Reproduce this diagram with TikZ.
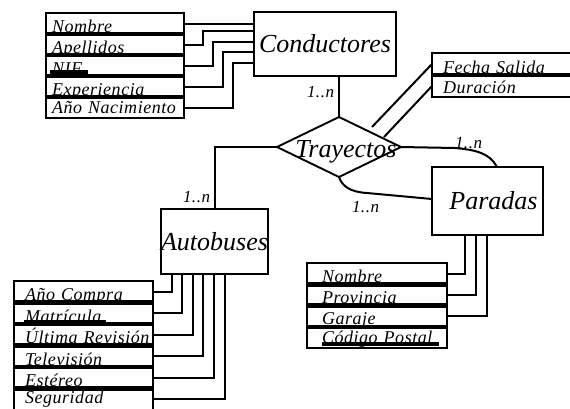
\documentclass[tikz,border=0pt]{standalone}
\usepackage{fontspec}
\setmainfont{Liberation Serif}
\newfontfamily\attrfam[LetterSpace=3]{Liberation Serif}
\usetikzlibrary{shapes.geometric}
\begin{document}
\begin{tikzpicture}[x=1pt,y=-1pt,
  every node/.style={inner sep=0pt, outer sep=0pt},
  entity/.style={draw, line width=1.9pt, font=\itshape\fontsize{26}{28}\selectfont},
  relname/.style={font=\itshape\fontsize{26}{28}\selectfont, anchor=base},
  rel/.style={draw, diamond, line width=1.9pt, inner sep=0pt, minimum width=124pt, minimum height=60pt},
  row/.style={draw, line width=1.6pt, anchor=north west, inner ysep=0pt, text depth=2pt, align=left, font=\attrfam\itshape\fontsize{18}{20}\selectfont},
  crow/.style={row, inner xsep=6pt, text width=126pt, text height=19pt},
  arow/.style={row, inner xsep=11pt, text width=117pt, text height=19.5pt},
  prow/.style={row, inner xsep=15pt, text width=110pt, text height=19.25pt},
  frow/.style={row, inner xsep=11pt, text width=121pt, text height=20pt},
  lastrow/.style={text depth=#1, text height=21pt-#1},
  sepbar/.style={line width=4.5pt},
  keybar/.style={line width=3.5pt},
  link/.style={line width=2pt},
  card/.style={anchor=base west, font=\attrfam\itshape\fontsize{17}{19}\selectfont}
]
\useasboundingbox (0,0) rectangle (570,408);
\clip (0,0) rectangle (570,408);
\fill[white] (0,0) rectangle (570,408);

% entities and relationship
\node[entity, minimum width=142pt, minimum height=64pt] (cond) at (325,44) {Conductores};
\node[entity, minimum width=111pt, minimum height=68pt] (par) at (487.5,201) {\hspace*{12pt}Paradas};
\node[entity, minimum width=107pt, minimum height=65pt] (aut) at (214.5,241.5) {Autobuses};
\node[rel] (tray) at (339,147) {};
\node[relname] (trayt) at (346,157) {Trayectos};

% Conductores attributes
\node[crow] (c1) at (46,13) {Nombre};
\node[crow] (c2) at (46,34) {Apellidos};
\node[crow] (c3) at (46,55) {NIF};
\node[crow] (c4) at (46,76) {Experiencia};
\node[crow, lastrow=4.5pt] (c5) at (46,97) {\mbox{Año Nacimiento}};
\foreach \r in {c1,c2,c3,c4} \draw[sepbar] (\r.south west) -- (\r.south east);
\draw[keybar] ([xshift=4pt,yshift=4pt]c3.south west) -- ++(38,0);

% Trayectos attributes
\node[frow] (fs) at (432,53) {\mbox{Fecha Salida}};
\node[frow, lastrow=4pt, text height=18pt] (du) at (432,75) {Duración};
\draw[sepbar] (fs.south west) -- (fs.south east);

% Paradas attributes
\node[prow] (p1) at (307,263) {Nombre};
\node[prow] (p2) at (307,284.25) {Provincia};
\node[prow] (p3) at (307,305.5) {Garaje};
\node[prow, lastrow=5pt, text height=16.25pt] (p4) at (307,326.75) {\mbox{Código Postal}};
\foreach \r in {p1,p2,p3} \draw[sepbar] (\r.south west) -- (\r.south east);
\draw[keybar] ([xshift=15pt,yshift=4pt]p4.south west) -- ++(117,0);

% Autobuses attributes
\node[arow] (a1) at (14,281) {\mbox{Año Compra}};
\node[arow] (a2) at (14,302.5) {Matrícula};
\node[arow] (a3) at (14,324) {\mbox{Última Revisión}};
\node[arow] (a4) at (14,345.5) {Televisión};
\node[arow] (a5) at (14,367) {Estéreo};
\node[arow, text depth=7pt, text height=14.5pt] (a6) at (14,388.5) {Seguridad};
\foreach \r in {a1,a2,a3,a4,a5} \draw[sepbar] (\r.south west) -- (\r.south east);
\draw[keybar] ([xshift=10pt,yshift=2.5pt]a2.south west) -- ++(82,0);

% connectors Conductores attributes
\draw[link] (c1.east) -- (c1.east -| cond.west);
\draw[link] (c2.east) -| (203,31) -- (cond.west |- 0,31);
\draw[link] (c3.east) -| (213,42) -- (cond.west |- 0,42);
\draw[link] (c4.east) -| (223,52) -- (cond.west |- 0,52);
\draw[link] (c5.east) -| (233,63) -- (cond.west |- 0,63);

% connectors Autobuses attributes
\draw[link] (a1.east) -| ([xshift=11pt]aut.south west);
\draw[link] (a2.east) -| ([xshift=21pt]aut.south west);
\draw[link] (a3.east) -| ([xshift=32pt]aut.south west);
\draw[link] (a4.east) -| ([xshift=42pt]aut.south west);
\draw[link] (a5.east) -| ([xshift=53pt]aut.south west);
\draw[link] (a6.east) -| ([xshift=64pt]aut.south west);

% connectors Paradas attributes
\draw[link] (p1.east) -| ([xshift=33pt]par.south west);
\draw[link] (p2.east) -| ([xshift=44pt]par.south west);
\draw[link] (p3.east) -| ([xshift=55pt]par.south west);

% relationship connectors
\draw[link] (cond.south -| tray.north) -- (tray.north);
\draw[link] (tray.west) -| (aut.north);
\draw[link] (tray.east) -- (455,148) .. controls (478,150) and (490,154) .. ([xshift=9.5pt]par.north);
\draw[link] (tray.south) .. controls (342,186) and (350,192) .. (367,193) -- ([yshift=2pt]par.west);
\coordinate (d1) at (372,127);
\coordinate (d2) at (384,137);
\draw[link] (d1) -- (fs.west);
\draw[link] (d2) -- (du.west);

% cardinalities
\node[card] (k1) at (307,97) {1..n};
\node[card] (k2) at (455,148) {1..n};
\node[card] (k3) at (352,212) {1..n};
\node[card] (k4) at (183,202) {1..n};
\end{tikzpicture}
\end{document}
